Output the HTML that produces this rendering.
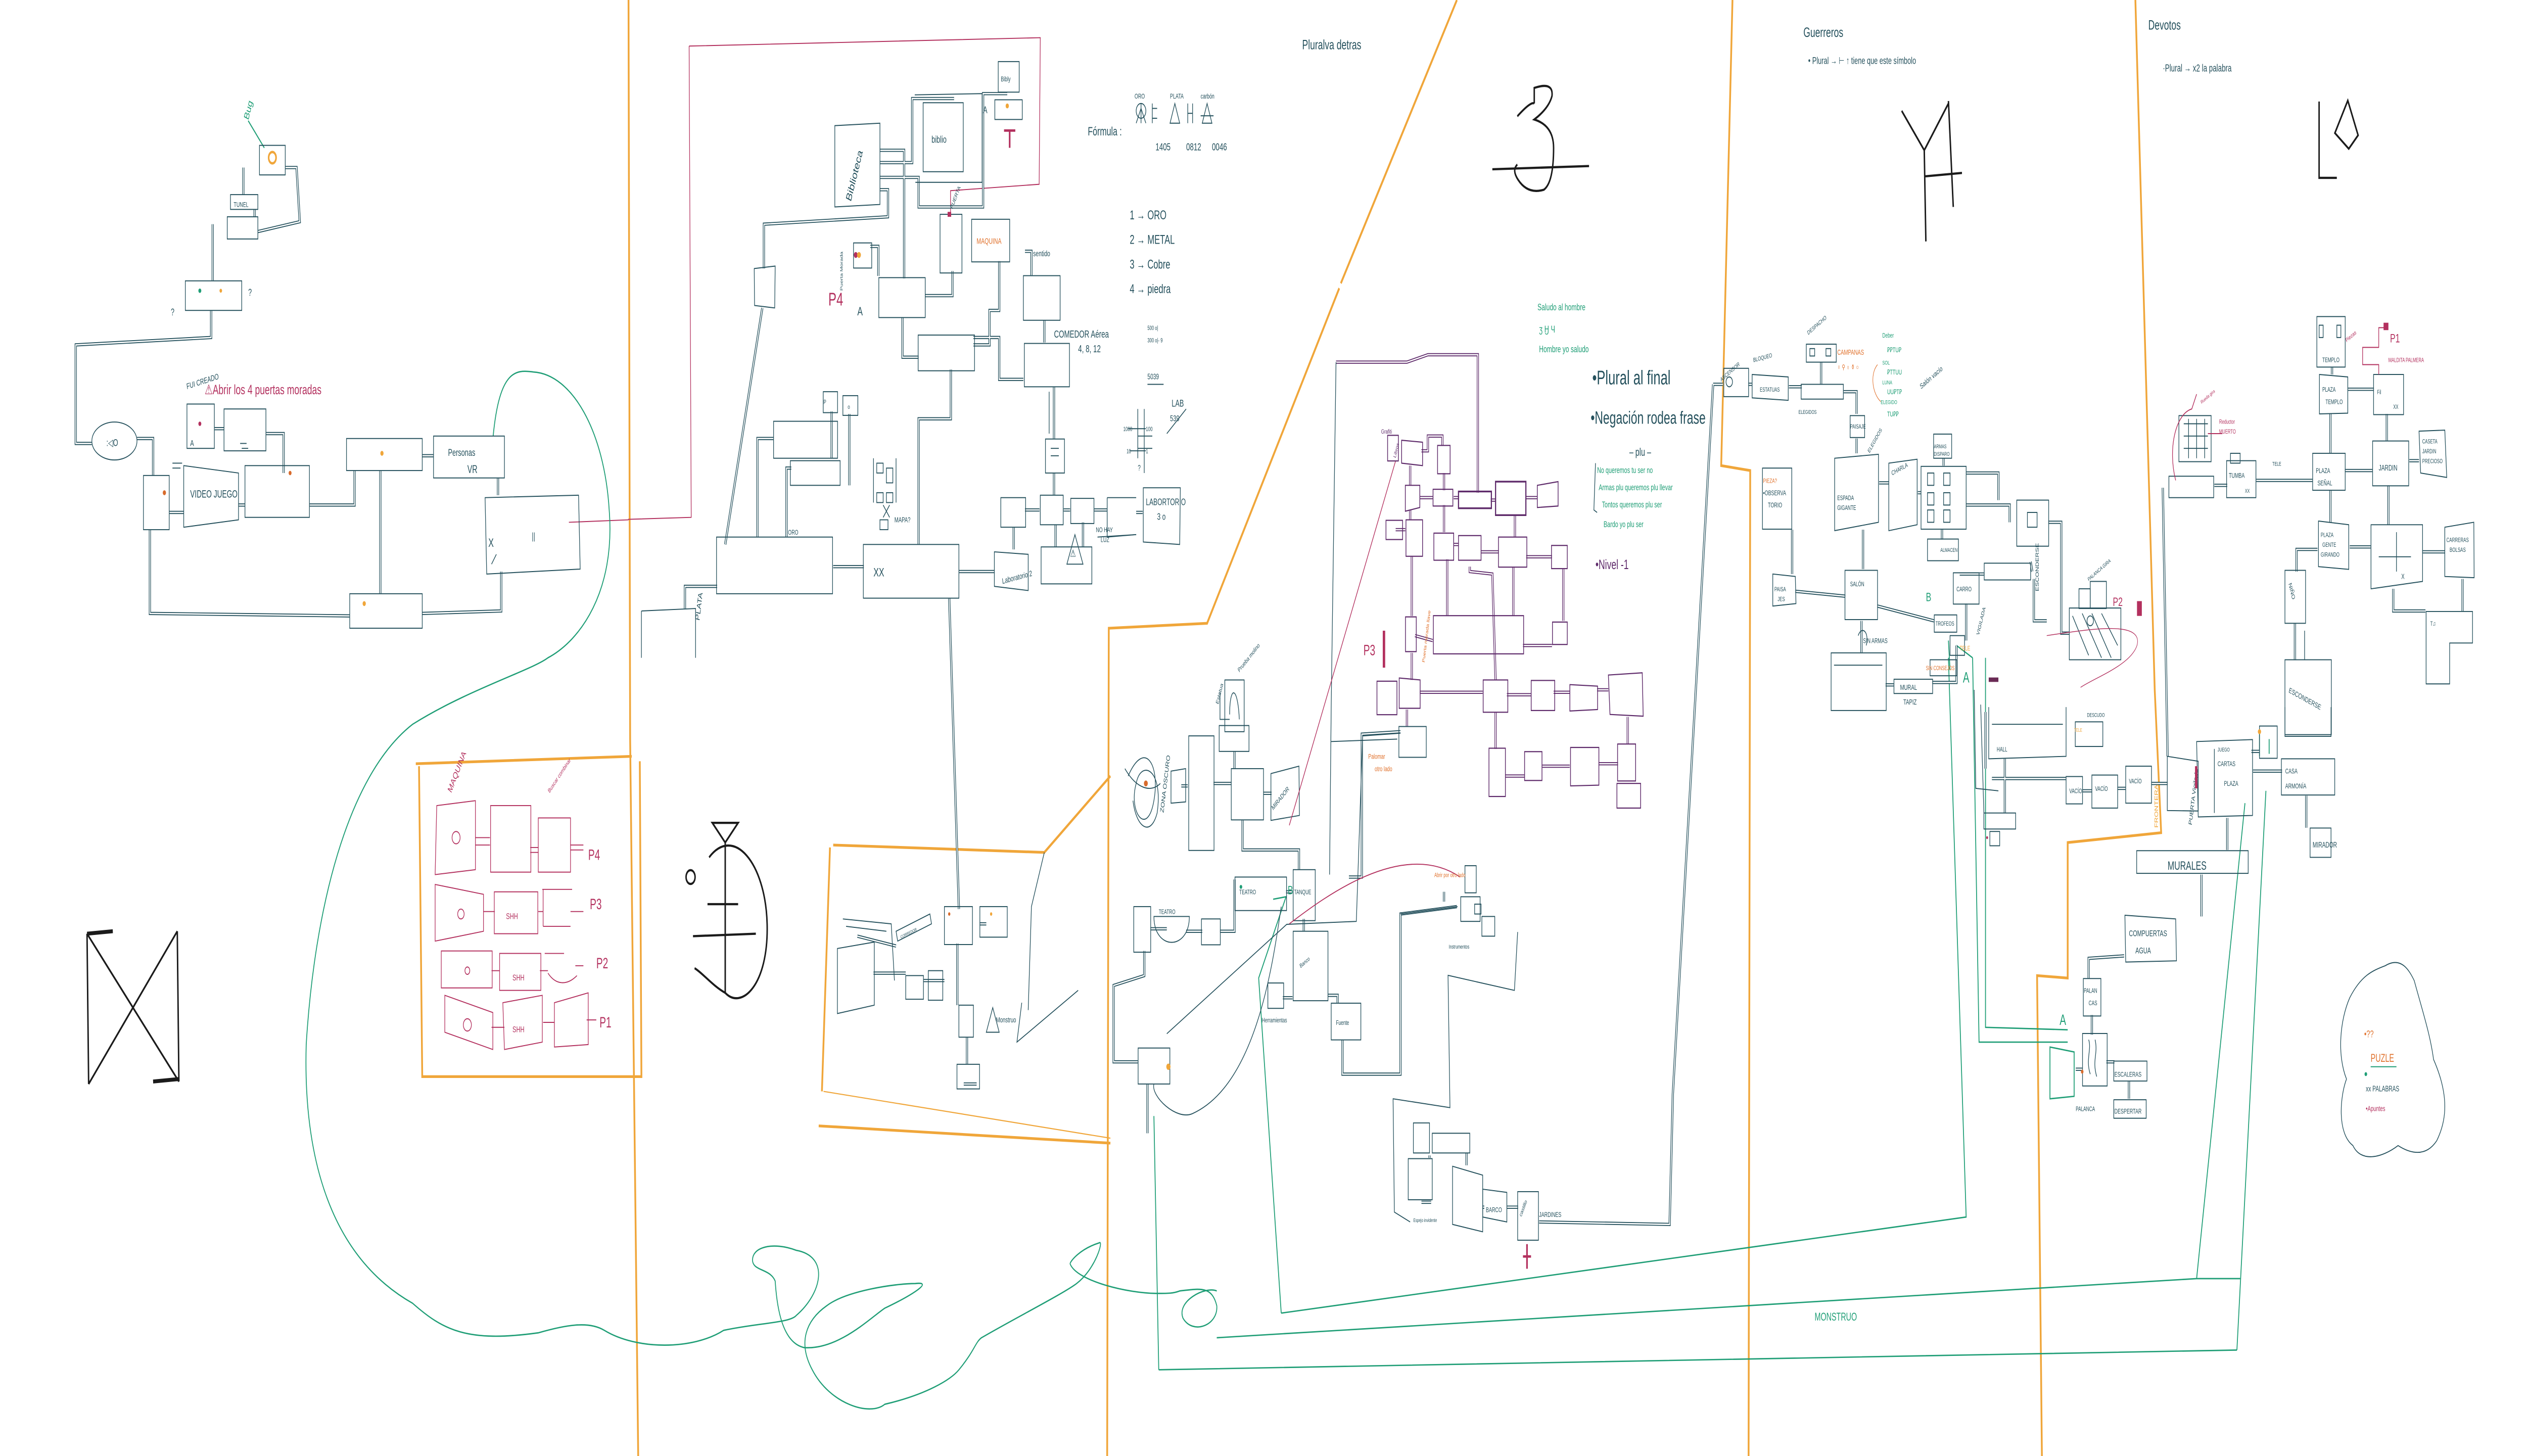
<!DOCTYPE html>
<html><head><meta charset="utf-8">
<style>
html,body{margin:0;padding:0;background:#fff;width:100%;height:100%;overflow:hidden;}
svg{display:block;position:absolute;left:0;top:0;width:100vw;height:100vh;}
text{font-family:"Liberation Sans",sans-serif;fill:#24505c;}
.s{stroke:#24505c;stroke-width:.4;fill:none}
.p{stroke:#5e2a6a;stroke-width:.45;fill:none}
.k{stroke:#b3305e;stroke-width:.4;fill:none}
.o{stroke:#f0a63a;stroke-width:1.1;fill:none}
.ot{stroke:#f0a63a;stroke-width:.45;fill:none}
.g{stroke:#1f9e76;stroke-width:.55;fill:none}
.b{stroke:#1b1b1b;stroke-width:.9;fill:none}
</style></head>
<body>
<svg viewBox="0 0 1568 591" preserveAspectRatio="none" xmlns="http://www.w3.org/2000/svg">
<rect width="1568" height="591" fill="#fff"/>
<defs>
<g id="cor">
<path d="M158,85 V88 M132,91 V114 M131,126 V137 L47,140 V180 H57 M85,178 H95 V193 M105,208 H114 M148,205 H152 M165,176 H176 V192 M192,205 H220 V191 M236,191 V241 M262,185 H269 M309,194 V201 M93,215 V249 L217,250 M262,249 L311,248 V232 M133,174 H139"/>
<path d="M151,68 V79 M177,68 H184 L186,90 L160,94"/>
<path d="M546,61 H561 V113 M546,66 H566 V40 H592 M546,72 H570 V84 H610 V38 H625 M546,77 H551 V88 L474,91 V109 M473,125 L450,221 M574,120 H591 V110 M560,129 V145 H570 M604,140 H614 V126 H620 V106 M636,102 H640 V112 M648,130 V139 M604,137 H620 V154 H635 M654,157 V178 M654,192 V201 M636,207 H645 M660,207 H664 M679,207 H687 M705,208 H709 M629,214 V223 M655,213 V222 M672,212 V222 M590,150 V170 H570 V221 M595,232 H617 M517,230 H536 M470,218 V178 H480 M488,218 V190 H491 M516,186 V167 M527,197 V168 M425,247 V238 H445 M589,243 L595,369 M545,112 V100 H540"/>
<path d="M542,395 H562 M573,398 H586 M594,383 V408 M600,421 V432 M608,375 H612 M532,380 L556,384 M598,440 H606"/>
<path d="M733,319 H737 M753,318 H764 M766,305 V312 M784,322 H789 M771,333 V345 L806,345 V353 M714,377 H724 M736,378 H746 M757,378 H766 V357 M798,362 H802 M809,373 V378 M796,405 H802 M824,404 H830 V407 M833,422 V436 H869 V371 L904,368 M896,362 V366 M837,356 H845 V298 L869,297 M710,386 V396 L691,400 V431 H706 M712,440 V460"/>
<path d="M955,496 L1036,497 L1038,444 L1063,156"/>
<path d="M882,488 H888 M887,469 V470 M910,468 V473 M920,490 H921 M935,490 H942"/>
<path d="M1063,156 H1069 M1085,156 H1087 M1110,157 H1118 M1130,147 V156 M1144,159 H1152 V168 M1152,178 V184 M1166,196 H1172 M1190,200 H1192 M1206,186 V189 M1220,192 H1240 V203 M1220,205 H1247 V212 M1112,215 V233 M1114,240 L1145,242 M1156,215 V231 M1165,246 L1200,252 M1205,215 V219 M1216,233 H1231 M1262,235 V252 H1270 M1271,212 H1279 V257 H1284 M1155,252 V265 M1170,278 H1175 M1199,277 H1214 V262 M1260,228 L1261,232 M1220,245 V260"/>
<path d="M1244,308 V330 M1236,316 H1282 M1292,321 H1298 M1314,320 H1319 M1335,318 H1345 M1364,315 H1363 M1398,313 H1416 M1397,305 H1402 M1382,332 V345 M1366,355 V372 M1318,388 L1296,389 V397 M1298,412 V420 M1307,431 H1312 M1321,439 V446 M1288,434 H1292 M1431,323 V336 M1232,289 V312"/>
<path d="M1447,149 V152 M1457,158 H1473 M1481,168 V179 M1495,187 H1501 M1446,168 V184 M1455,191 H1472 M1400,195 H1435 M1374,197 H1382 M1446,199 V212 M1482,197 V213 M1458,222 H1471 M1503,224 H1517 M1438,223 H1425 V232 M1424,253 V268 M1485,239 V248 H1505 M1528,235 V248 M1342,198 L1345,307"/>
</g>
<g id="pcor">
<path d="M875,189 V197 M875,207 V211 M876,226 V250 M876,265 V276 M882,183 H886 V177 H895 V181 M896,192 V199 M896,205 V216 M898,227 V250 M881,202 H889 M902,202 H905 M925,203 H928 M947,202 H954 M866,215 H872 M902,221 H905 M919,224 H930 M947,226 H963 M940,209 V218 M939,230 V250 M970,231 V252 M945,262 H963 M881,281 H920 M935,282 H950 M964,281 H974 M991,280 H998 M873,288 V295 M912,230 V232 L926,233 L928,276 M928,289 V304 M957,311 H974 M992,310 H1004 M1010,291 V302 M934,315 H946 M917,200 V164 L917,144 L886,144 L873,147 L829,147 M878,258 L889,260"/>
</g>
</defs>

<path class="o" d="M390,0 L391,300 L396,591"/>
<path class="o" d="M904,0 L832,115 M831,117 L749,253 L688,255 L687,591"/>
<path class="o" d="M1075,0 L1068,189 L1086,191 L1085,591"/>
<path class="o" d="M1325,0 L1337,280 L1341,338 L1283,342 L1283,397 L1264,396 L1267,591"/>
<path class="o" d="M258,310 L392,307 M260,311 L262,437 L398,437 L397,309"/>
<path class="o" d="M517,343 L648,346 L689,315 M515,344 L510,443 M508,457 L689,464"/>
<path class="ot" d="M511,443 L689,462"/>

<path class="k" d="M427.6,18.7 L645.5,15.3 L644.8,74.8 L589.8,77.4 L589.8,86.7 M427.6,18.7 L428.9,210 L389.7,210.8 M353,212 L390,211"/>

<path class="g" d="M306,177 C310,150 320,150 331,151 C355,152 375,175 378,207 C382,240 360,260 340,267 C330,272 290,280 256,294 C215,315 195,370 190,424 C188,470 205,510 256,529 C275,540 290,545 334,541 C350,538 365,536 375,540 C395,548 430,548 449,540 C470,537 490,537 494,534 C510,525 515,510 494,507.5 C480,504 466,506 467,512 C468,516 478,515 481,520 C482,530 485,545 499,547 C520,548 540,535 549,531 C565,526 580,520 568,521 C555,521 525,524 513,530 C500,536 495,545 504,556 C515,570 540,575 549,570 C575,566 590,560 595,556 C605,548 605,545 609,543 C630,535 660,525 668,521 C680,515 685,503 682,504.5 C670,507 664,512 664,513 C668,520 700,525 718,525 C725,525 728,525 732,524 C745,523 752,522 755,530 C756,538 740,542 734,535 C730,528 748,522 755,524"/>
<path class="g" d="M755,543 L1363,519 L1390,519 M719,556 L1388,548 M716,453 L719,556 M795,533 L1220,494 L1209,267 M795,533 L781,397 L798,364 L790,365"/>
<path class="g" d="M1363,519 L1393,326 M1388,548 L1406,321"/>
<path class="g" d="M1232,267 L1232,417 L1283,418 M1224,267 L1228,423 L1283,423 M1209,260 L1210,272 M1214,262 L1224,267"/>
<path class="g" d="M1272,425 L1287,427 L1287,445 L1272,446 Z M1402,298 L1402,307 M1408,300 V306"/>
<path class="g" d="M154,49 L164,60"/>

<use href="#cor" stroke="#24505c" stroke-width="1.3" fill="none"/>
<use href="#cor" stroke="#fff" stroke-width=".55" fill="none"/>
<use href="#pcor" stroke="#5e2a6a" stroke-width="1.3" fill="none"/>
<use href="#pcor" stroke="#fff" stroke-width=".55" fill="none"/>

<g class="s">
<rect x="161" y="59" width="16" height="12"/>
<rect x="143" y="79" width="17" height="6"/>
<rect x="141" y="88" width="19" height="9"/>
<rect x="115" y="114" width="35" height="12"/>
<rect x="116" y="164" width="17" height="18"/>
<rect x="139" y="166" width="26" height="17"/>
<rect x="89" y="193" width="16" height="22"/>
<path d="M114,189 L148,192 L148,211 L114,214 Z"/>
<rect x="152" y="189" width="40" height="21"/>
<rect x="215" y="178" width="47" height="13"/>
<rect x="269" y="177" width="44" height="17"/>
<path d="M301,202 L359,201 L360,231 L302,233 Z"/>
<rect x="217" y="241" width="45" height="14"/>
<ellipse cx="71" cy="179" rx="14" ry="7.7"/>
<path d="M107,188 H113 M107,190 H112 M149,180 H153 M150,182 H154 M305,229 L308,225"/>
</g>
<circle cx="169" cy="64" r="2.3" stroke="#f0a63a" stroke-width="1" fill="none"/>
<circle cx="237" cy="184" r="1" fill="#f0a63a"/><circle cx="226" cy="245" r="1" fill="#f0a63a"/>
<circle cx="102" cy="200" r="1" fill="#d86b2c"/><circle cx="124" cy="172" r=".9" fill="#b3305e"/>
<circle cx="124" cy="118" r=".9" fill="#1f9e76"/><circle cx="137" cy="118" r=".8" fill="#f0a63a"/>
<circle cx="180" cy="192" r=".9" fill="#d86b2c"/>
<text x="150" y="49" font-size="4.5" style="fill:#1f9e76" transform="rotate(-70 152 46)">Bug</text>
<text x="145" y="84" font-size="2.8">TUNEL</text>
<text x="116" y="158" font-size="3.3" transform="rotate(-12 116 158)">FUI CREADO</text>
<text x="127" y="160" font-size="5.5" style="fill:#b3305e">⚠Abrir los 4 puertas moradas</text>
<text x="118" y="202" font-size="4.3">VIDEO JUEGO</text>
<text x="278" y="185" font-size="4">Personas</text><text x="290" y="192" font-size="4.5">VR</text>
<text x="303" y="222" font-size="5">X</text><text x="330" y="219" font-size="4">||</text>
<text x="66" y="181" font-size="4">:◁O</text>
<text x="118" y="181" font-size="3.5">A</text>
<text x="106" y="128" font-size="4">?</text><text x="154" y="120" font-size="4">?</text>

<g class="b">
<path d="M54,379 L55,440 M110,378 L111,439 M54,379 L111,439 M110,378 L55,440"/>
<path d="M54,379 L70,378 M95,439 L111,438" stroke-width="1.6"/>
</g>
<g class="b">
<path d="M442,334 L458,334 L450,342 Z"/>
<circle cx="428.5" cy="356" r="2.8"/>
<path d="M450,342 V403 M439,367 H458 M430,380 L469,379"/>
<path d="M440,348 C455,335 475,350 476,375 C477,400 460,410 450,403 C442,400 436,395 431,393"/>
</g>

<g class="k">
<path d="M271,327 L295,325 L295,353 L270,355 Z"/>
<rect x="304.4" y="327" width="25" height="27"/>
<rect x="334" y="332" width="20" height="22"/>
<path d="M270,359 L300,363 L300,378 L270,382 Z"/>
<rect x="306.7" y="362" width="27" height="17"/>
<path d="M336.5,361 H355 M337,376 H354 M337,361 V376"/>
<rect x="273.8" y="386" width="31.6" height="15"/>
<rect x="310" y="387" width="25.6" height="15"/>
<path d="M338,387 H350 M340,395 C345,400 352,400 358,396"/>
<path d="M276,404 L305.8,411 L305.8,426 L276,419 Z"/>
<path d="M312,407 L336.5,404 L336.5,423 L313,426 Z"/>
<path d="M344,407 L365,403 L365,424 L344,425 Z"/>
<path d="M295,340 H304 M295,343 H304 M329,344 H334 M329,346 H334 M354,343 H362 M354,345 H362 M300,370 H307 M334,370 H337 M354,370 H362 M305,394 H310 M335,394 H340 M357,392 H362 M305,417 H313 M337,415 H344 M364,414 H370"/>
<circle cx="283" cy="340" r="2.5"/><circle cx="286" cy="371" r="2"/><circle cx="290" cy="394" r="1.5"/><circle cx="290" cy="416" r="2.5"/>
</g>
<text x="280" y="322" font-size="4" style="fill:#b3305e" transform="rotate(-60 280 322)">MAQUINA</text>
<text x="341" y="322" font-size="2.5" style="fill:#b3305e" transform="rotate(-45 341 322)">Buscar combinar</text>
<text x="365" y="349" font-size="6" style="fill:#b3305e">P4</text>
<text x="366" y="369" font-size="6" style="fill:#b3305e">P3</text>
<text x="370" y="393" font-size="6" style="fill:#b3305e">P2</text>
<text x="372" y="417" font-size="6" style="fill:#b3305e">P1</text>
<text x="314" y="373" font-size="3.5" style="fill:#b3305e">SHH</text>
<text x="318" y="398" font-size="3.5" style="fill:#b3305e">SHH</text>
<text x="318" y="419" font-size="3.5" style="fill:#b3305e">SHH</text>

<g class="s">
<path d="M518,51 L546,50 L546,83 L518,84 Z"/>
<rect x="572.8" y="41.7" width="24.9" height="28"/>
<path d="M567.6,38.5 L609.4,38 L609.4,74 L568,74"/>
<rect x="619.4" y="25" width="13" height="12.4"/>
<rect x="617.3" y="40.5" width="17" height="8"/>
<path d="M468,109 L481,108 L480.7,125 L468.2,124 Z"/>
<rect x="529.6" y="98.6" width="11.3" height="10.2"/>
<rect x="545.3" y="112.7" width="28.8" height="16.2"/>
<rect x="583.3" y="87" width="13.6" height="23.8"/>
<rect x="602.9" y="89" width="23.6" height="17.3"/>
<rect x="635" y="111.9" width="22.8" height="18.1"/>
<rect x="569.7" y="136" width="35" height="14.5"/>
<rect x="635.6" y="139.4" width="28" height="17.6"/>
<rect x="648.7" y="178.2" width="11.8" height="13.8"/>
<rect x="621" y="202" width="15.4" height="12"/>
<rect x="645.5" y="201" width="14.2" height="12"/>
<rect x="664.4" y="202.3" width="14.4" height="10.2"/>
<path d="M687,202 H705 M687,218 L705,217 M687,202 V218"/>
<path d="M709.4,198 L732.4,198 L732,221 L709.4,220 Z"/>
<path d="M617,224 L638,225 L638,239.7 L617,238 Z"/>
<rect x="646" y="222" width="31.5" height="15"/>
<rect x="535.7" y="221" width="59.3" height="21.8"/>
<rect x="444.6" y="218" width="72" height="23"/>
<path d="M398,248 L431.6,247 L431.6,267 M398,248 V267"/>
<rect x="480" y="171" width="39.7" height="15"/>
<rect x="490.4" y="187" width="30.9" height="10"/>
<rect x="510.8" y="159" width="8.9" height="8.5"/>
<rect x="523" y="160.6" width="9.3" height="8"/>
<path d="M542,186 V204 M556,186 V204 M544,188 H548 V192 H544 Z M550,190 H554 V196 H550 Z M544,200 H548 V204 H544 Z M550,200 H554 V204 H550 Z M548,205 L552,210 M552,205 L548,210 M546,211 H551 V215 H546 Z"/>
<path d="M667,217 L672,229 L662,229 Z M681,218 L705,217"/>
<path d="M710,166 V192 M706,177 H715 M706,182 H715"/>
<path d="M651,159 V176 M652,182 H657 M652,185 H657"/>
</g>
<text x="528" y="82" font-size="5" transform="rotate(-70 528 82)">Biblioteca</text>
<text x="578" y="58" font-size="4">biblio</text>
<text x="621" y="33" font-size="2.8">Bibly</text>
<text x="610" y="46" font-size="4">A</text>
<path d="M623,53 H630 M626.5,53 V60" stroke="#b3305e" stroke-width="1" fill="none"/>
<circle cx="625" cy="43" r="1" fill="#f0a63a"/>
<text x="591" y="85" font-size="2.6" transform="rotate(-60 591 85)">PUERTA</text>
<rect x="588" y="86" width="2.2" height="2" fill="#b3305e"/>
<text x="606" y="99" font-size="3.3" style="fill:#e0702a">MAQUINA</text>
<text x="641" y="104" font-size="3.3">sentido</text>
<text x="523" y="118" font-size="2.4" transform="rotate(-90 523 118)">Puerta Morada</text>
<circle cx="531" cy="103.5" r="1.2" fill="#b3305e"/><circle cx="533" cy="103.5" r="1.2" fill="#f0a63a"/>
<text x="514" y="124" font-size="7.5" style="fill:#b3305e">P4</text>
<text x="532" y="128" font-size="5">A</text>
<text x="654" y="137" font-size="4.2">COMEDOR Aérea</text>
<text x="669" y="143" font-size="4.2">4, 8, 12</text>
<text x="542" y="234" font-size="5">XX</text>
<text x="489" y="217" font-size="2.8">ORO</text>
<text x="434" y="252" font-size="3.8" transform="rotate(-80 434 252)">PLATA</text>
<text x="622" y="237" font-size="3.2" transform="rotate(-10 622 237)">Laboratorio 2</text>
<text x="711" y="205" font-size="3.8">LABORTORIO</text><text x="718" y="211" font-size="3.8">3 o</text>
<text x="680" y="216" font-size="2.8">NO HAY</text><text x="683" y="220" font-size="2.8">LUZ</text>
<text x="555" y="212" font-size="3">MAPA?</text>
<text x="664" y="226" font-size="4">⚠</text>
<text x="511" y="164" font-size="2.5">P</text><text x="526" y="166" font-size="2.5">o</text>
<text x="675" y="55" font-size="5">Fórmula :</text>
<text x="704" y="40" font-size="2.8">ORO</text><text x="726" y="40" font-size="2.8">PLATA</text><text x="745" y="40" font-size="2.8">carbón</text>
<g class="s"><circle cx="708" cy="45" r="3"/><path d="M708,42 V50 M705,50 L708,44 L711,50 M715,42 V50 M715,44 H718 M715,48 H718 M726,50 L729,42 L732,50 Z M737,42 V50 M740,42 V50 M737,46 H740 M746,50 L749,42 L752,50 Z M745,47 H753"/></g>
<text x="717" y="61" font-size="4.2">1405</text><text x="736" y="61" font-size="4.2">0812</text><text x="752" y="61" font-size="4.2">0046</text>
<text x="701" y="89" font-size="5.2">1 → ORO</text>
<text x="701" y="99" font-size="5.2">2 → METAL</text>
<text x="701" y="109" font-size="5.2">3 → Cobre</text>
<text x="701" y="119" font-size="5.2">4 → piedra</text>
<text x="712" y="134" font-size="2.4">500 o|</text><text x="712" y="139" font-size="2.4">300 o|- 9</text>
<text x="712" y="154" font-size="3.2">5039</text>
<path class="s" d="M712,156 H722 M706,166 V186 M700,174 H711 M701,183 H711"/>
<text x="727" y="165" font-size="4">LAB</text><text x="726" y="171" font-size="3.5">539</text>
<path class="s" d="M724,176 L736,166"/>
<text x="697" y="175" font-size="2.5">1000</text><text x="711" y="175" font-size="2.5">100</text>
<text x="699" y="184" font-size="2.5">10</text><text x="711" y="184" font-size="2.5">1</text>
<text x="706" y="191" font-size="3.2">?</text>

<g class="s">
<path d="M519.6,385 L542.5,382.4 L542.5,408 L519.6,411.4 Z"/>
<path d="M523,373 L553,375 L555,398 M525,376 L550,378"/>
<rect x="586" y="368" width="17.4" height="15.4"/>
<rect x="608" y="368" width="17" height="12.4"/>
<rect x="562" y="396" width="11" height="9.6"/>
<rect x="576" y="394" width="9" height="12"/>
<rect x="595" y="408" width="9" height="13"/>
<rect x="593.8" y="432" width="14" height="10"/>
<path d="M556,378 L577,371 L578,375 L557,382 Z"/>
<path d="M612,419 L616,409 L620,419 Z M634,407 L631,423 L669,402"/>
<path d="M648,346 L640,368 L638,410"/>
</g>
<text x="559" y="381" font-size="1.8" transform="rotate(-18 559 381)">CORREDOR</text>
<text x="618" y="415" font-size="3">Monstruo</text>
<circle cx="589" cy="371" r=".7" fill="#d86b2c"/><circle cx="615" cy="371" r=".7" fill="#f0a63a"/>

<text x="808" y="20" font-size="5.5">Pluralva detras</text>
<g class="b" stroke-width="1.1">
<path d="M926,68.7 L986,67.4"/>
<path d="M941.5,47.2 Q950,41 952,42 M952,42 L952,35.7 Q964,33 963,39 Q961,44 952,48.5 Q964,51 964,60 Q964,74 958,77 Q948,79 942,73 Q938,69 941.5,66.8"/>
</g>
<g class="s">
<path d="M700,315 C710,300 720,310 716,325 C712,340 700,330 705,318 C708,308 722,312 718,330 C714,340 705,336 703,325 M698,312 C705,320 714,322 720,318"/>
<path d="M726.6,313 L735.7,312 L735.7,325.5 L726.6,326 Z"/>
<rect x="737.6" y="298.7" width="15.7" height="46.5"/>
<rect x="756.5" y="294.5" width="18.5" height="10.5"/>
<rect x="764" y="312" width="20" height="20.8"/>
<path d="M788.6,314 L806,311 L806.3,331 L788.6,333 Z"/>
<rect x="760" y="276" width="12" height="21"/>
<path d="M763,290 C763,278 768,278 769,292 M757,281 V292 H763"/>
<rect x="703.5" y="368" width="10.5" height="18.5"/>
<path d="M716,372 C716,386 738,386 738,372 Z"/>
<rect x="745.5" y="373" width="11.7" height="10.5"/>
<rect x="766.3" y="356" width="32" height="13.6"/>
<rect x="802.4" y="353" width="13.7" height="20.7"/>
<rect x="802.4" y="378" width="21.6" height="28.2"/>
<rect x="786.7" y="399" width="9.8" height="10.3"/>
<rect x="826" y="407.2" width="18.4" height="14.9"/>
<rect x="706.2" y="425.4" width="19.7" height="14.6"/>
<path d="M724,419.6 L798.4,375.2 L841.6,374 L845.5,298.7 L869,297.6"/>
<path d="M829,147 L826,287 L825,355"/>
<path d="M795,368 C790,390 780,440 740,452 C730,455 714,445 716,440"/>
<path d="M877,455.8 H887 V468 H877 Z M888.7,460 H912 V468 H888.7 Z M873.8,470.3 H888.7 V487 H873.8 Z"/>
<path d="M901.3,473.4 L920,477 L920,500 L901.3,497 Z"/>
<path d="M920,482.7 L935,484 L935,496 L920,494 Z"/>
<rect x="941.7" y="483.7" width="12.9" height="19.7"/>
<rect x="906.4" y="364" width="12" height="10"/>
<rect x="919.5" y="372" width="8" height="8"/>
<rect x="915" y="367" width="4" height="4"/>
<rect x="909" y="351.4" width="7" height="11"/>
<path d="M941.7,378.3 L939.7,402 L898.5,395.9 L899.7,449.6 L864.4,446 L865.2,492 L875,496"/>
<path d="M904.4,368 L869,371"/>
</g>
<path class="k" d="M800,375 C820,365 870,340 906,356" stroke-width=".3"/>
<path class="k" d="M800,335 L866,187" stroke-width=".3"/>
<path d="M947.5,505 V510 M945,510 H950 M947.5,510 V515" stroke="#b3305e" stroke-width="1" fill="none"/>
<text x="722" y="330" font-size="3.2" transform="rotate(-80 722 330)">ZONA OSCURO</text>
<text x="790" y="329" font-size="2.8" transform="rotate(-40 790 329)">MIRADOR</text>
<text x="756" y="286" font-size="2.6" transform="rotate(-70 756 286)">Estatua</text>
<text x="769" y="273" font-size="2.6" transform="rotate(-40 769 273)">Prueba molino</text>
<text x="719" y="371" font-size="2.6">TEATRO</text>
<text x="769" y="363" font-size="2.6">TEATRO</text>
<text x="803" y="363" font-size="2.6">TANQUE</text>
<text x="807" y="393" font-size="2.4" transform="rotate(-30 807 393)">Banco</text>
<text x="783" y="415" font-size="2.6">Herramientas</text>
<text x="829" y="416" font-size="2.6">Fuente</text>
<text x="899" y="385" font-size="2.2">Instrumentos</text>
<text x="877" y="496" font-size="2">Espejo invidente</text>
<text x="922" y="492" font-size="2.8">BARCO</text>
<text x="944" y="494" font-size="2.4" transform="rotate(-60 944 494)">castillo</text>
<text x="955" y="494" font-size="2.8">JARDINES</text>
<text x="884" y="269" font-size="2.4" style="fill:#e0702a" transform="rotate(-80 884 269)">Puerta morada llave</text>
<text x="849" y="308" font-size="2.8" style="fill:#e0702a">Palomar</text><text x="853" y="313" font-size="2.8" style="fill:#e0702a">otro lado</text>
<text x="890" y="356" font-size="2.4" style="fill:#e0702a">Abrir por otro lado</text>
<text x="846" y="266" font-size="6" style="fill:#b3305e">P3</text>
<rect x="858" y="256" width="1.5" height="15" fill="#b3305e"/>
<text x="799" y="363" font-size="5" style="fill:#1f9e76">B</text>
<circle cx="711" cy="318" r="1.2" fill="#d86b2c"/>
<circle cx="725" cy="433" r="1.3" fill="#f0a63a"/>
<circle cx="770" cy="360" r=".8" fill="#1f9e76"/>
<g class="p">
<rect x="861" y="176.7" width="6.7" height="10.4"/>
<path d="M869.7,178.7 L882.7,179.5 L882.7,189 L869.7,188 Z"/>
<rect x="892" y="180.8" width="7.8" height="11.5"/>
<path d="M872,197 L881,197 L881,206 L872,207.5 Z"/>
<rect x="889.2" y="198.6" width="12.3" height="6.8"/>
<rect x="905" y="199.5" width="20.4" height="6.8" stroke-width=".7"/>
<rect x="928" y="195.5" width="18.8" height="13.6" stroke-width=".7"/>
<path d="M953.9,197 L966.8,195.5 L966.8,205.4 L953.9,206 Z"/>
<rect x="860" y="211.2" width="10.3" height="7.8"/>
<rect x="872.4" y="211" width="10.3" height="14.8"/>
<rect x="889.7" y="216.4" width="12.3" height="11"/>
<rect x="905" y="217.4" width="14" height="10"/>
<rect x="929.8" y="218" width="17.6" height="12.2"/>
<rect x="962.7" y="221.4" width="9.8" height="9.4"/>
<rect x="872.1" y="250.4" width="6.7" height="14.1"/>
<rect x="889.4" y="249.9" width="56" height="15.5"/>
<rect x="963.3" y="252.5" width="9.2" height="9.1"/>
<rect x="854.4" y="276.5" width="12.4" height="13.6"/>
<path d="M868.2,275.2 L881.2,276 L881.2,287.5 L868.2,287.5 Z"/>
<rect x="920.3" y="276" width="15.3" height="13.1"/>
<rect x="950.1" y="276.2" width="14.6" height="12.2"/>
<path d="M974.1,277.9 L991.3,278.5 L991.3,288 L974.1,288.6 Z"/>
<path d="M998,274 L1019,273.1 L1019.6,290.7 L999,290 Z"/>
<rect x="923.9" y="303.7" width="10.2" height="19.6"/>
<rect x="946" y="305.1" width="10.8" height="11.7"/>
<path d="M974.5,303.4 L992.1,303.4 L992.1,318.7 L974.5,319 Z"/>
<rect x="1003.7" y="302" width="11.2" height="15"/>
<rect x="1003.3" y="318" width="14.7" height="10"/>
</g>
<rect class="s" x="868" y="294.9" width="17" height="12.5"/>
<path class="s" d="M867,300 L826,301"/>
<text x="857" y="176" font-size="2.5" style="fill:#5e2a6a">Grafiti</text>
<text x="866" y="186" font-size="2.3" style="fill:#5e2a6a" transform="rotate(-70 866 186)">Libros</text>
<text x="954" y="126" font-size="3.8" style="fill:#1f9e76">Saludo al hombre</text>
<text x="955" y="135" font-size="4" style="fill:#1f9e76">ʒ  Ӈ  Ч</text>
<text x="955" y="143" font-size="3.8" style="fill:#1f9e76">Hombre yo saludo</text>
<text x="988" y="156" font-size="8">•Plural al final</text>
<text x="987" y="172" font-size="7.2">•Negación rodea frase</text>
<text x="1011" y="185" font-size="4.5">– plu –</text>
<path class="s" d="M990,188 L989,207 L991,208" stroke="#1f9e76"/>
<text x="991" y="192" font-size="3.4" style="fill:#1f9e76">No queremos tu ser no</text>
<text x="992" y="199" font-size="3.4" style="fill:#1f9e76">Armas plu queremos plu llevar</text>
<text x="994" y="206" font-size="3.4" style="fill:#1f9e76">Tontos queremos plu ser</text>
<text x="995" y="214" font-size="3.4" style="fill:#1f9e76">Bardo yo plu ser</text>
<text x="990" y="231" font-size="5.5" style="fill:#5e2a6a">•Nivel -1</text>

<text x="1119" y="15" font-size="5.5">Guerreros</text>
<text x="1122" y="26" font-size="4">• Plural → ⊢ ↑ tiene que este símbolo</text>
<g class="b" stroke-width="1.1">
<path d="M1180,45 L1194,61 L1209,42 M1194,61 L1195,98 M1209,41 L1212,84 M1194,71.6 L1217.4,70.2"/>
</g>
<g class="s">
<rect x="1069.6" y="149.5" width="15.4" height="11.5"/>
<circle cx="1073" cy="155" r="2"/>
<path d="M1087.2,152 L1109.6,153 L1109.6,162.5 L1087.2,161.5 Z"/>
<rect x="1117.6" y="156" width="26.2" height="6"/>
<rect x="1120.8" y="139.7" width="18.6" height="7.3"/>
<rect x="1123" y="141.5" width="3" height="3"/><rect x="1133" y="141.5" width="3" height="3"/>
<rect x="1148" y="168.7" width="9" height="8.9"/>
<path d="M1138.4,186 L1165.6,184.4 L1165.6,212 L1138.4,215.4 Z"/>
<path d="M1172,188 L1189.6,186.4 L1189.6,213 L1172,215.4 Z"/>
<rect x="1192" y="189.3" width="28" height="25.5"/>
<rect x="1196" y="192" width="4" height="5"/><rect x="1206" y="192" width="4" height="5"/><rect x="1196" y="200" width="4" height="5"/><rect x="1206" y="200" width="4" height="5"/><rect x="1196" y="207" width="4" height="5"/><rect x="1206" y="207" width="4" height="5"/>
<rect x="1199.8" y="176.2" width="11.2" height="9.8"/>
<rect x="1196" y="218.8" width="19.2" height="8.8"/>
<rect x="1212" y="232.5" width="16" height="12.7"/>
<rect x="1231.2" y="228.6" width="28.8" height="6.8"/>
<rect x="1251.4" y="203" width="19.8" height="18.7"/>
<rect x="1258" y="208" width="6" height="6"/>
<rect x="1284" y="246.8" width="32" height="21"/>
<path d="M1286,250 L1296,266 M1292,249 L1304,267 M1298,249 L1310,267 M1304,249 L1314,262"/>
<rect x="1290" y="239" width="7" height="8"/><rect x="1297" y="236" width="10" height="11"/>
<circle cx="1297" cy="252" r="2"/>
<rect x="1093.6" y="190" width="18.2" height="24.8"/>
<path d="M1100,233 L1114,234 L1114.4,245 L1100,246 Z"/>
<rect x="1144.8" y="231.5" width="20.2" height="20"/>
<rect x="1136.2" y="265" width="34.2" height="23.4"/>
<path d="M1138,270 H1168 M1153,258 C1155,254 1160,256 1158,262"/>
<rect x="1175.2" y="275.7" width="24" height="5.8"/>
<rect x="1200.2" y="249.6" width="14" height="7"/>
<rect x="1197.6" y="267.8" width="16.6" height="6.5"/>
<rect x="1210" y="258" width="9" height="8"/>
<path d="M1234,287 L1234,308 L1282,307 L1282,287 M1236,294 H1280"/>
<rect x="1287.7" y="293" width="17.1" height="10"/>
<rect x="1282" y="315.2" width="10.2" height="11.1"/>
<rect x="1298" y="314.6" width="16" height="13.4"/>
<rect x="1319" y="311" width="16" height="15"/>
<path d="M1344.8,307 L1364,309 L1364,329.2 L1344.8,329 Z"/>
<path d="M1363,301 L1397.7,300.2 L1397.7,331 L1364,331.6 Z M1374,304 V330"/>
<rect x="1402" y="294.7" width="11" height="13.1"/>
<rect x="1415.6" y="308" width="33.1" height="14.7"/>
<path d="M1417.8,287 V298.9 H1446.4 V287"/>
<path d="M1433.4,336.1 H1446.4 V348 H1433.4 Z"/>
<rect x="1325.8" y="345.3" width="69.2" height="9.2"/>
<path d="M1318.5,371.5 L1350,373 L1350.5,390 L1319,390.5 Z"/>
<rect x="1292.7" y="397.2" width="10.9" height="15.2"/>
<rect x="1292.2" y="419.5" width="15.3" height="21.3"/>
<path d="M1296,422 C1298,426 1294,430 1297,436 M1300,422 C1302,428 1298,430 1301,437"/>
<path d="M1311.6,430.7 H1332.2 V438.8 H1311.6 Z"/>
<rect x="1311.6" y="446.4" width="20.1" height="7.5"/>
<rect x="1231" y="330" width="19.7" height="6.5"/>
<rect x="1234.7" y="337.5" width="6.1" height="5.8"/>
<path d="M1229,286 L1231,330 M1225,280 L1226,320 L1240,321"/>
</g>
<text x="1068" y="155" font-size="2.4" transform="rotate(-30 1068 155)">ASCENSOR</text>
<text x="1088" y="147" font-size="2.4" transform="rotate(-10 1088 147)">BLOQUEO</text>
<text x="1092" y="159" font-size="2.4">ESTATUAS</text>
<text x="1116" y="168" font-size="2.2">ELEGIDOS</text>
<text x="1122" y="136" font-size="2.4" transform="rotate(-30 1122 136)">DESPACHO</text>
<text x="1140" y="144" font-size="3" style="fill:#e0702a">CAMPANAS</text>
<text x="1140" y="150" font-size="2.8" style="fill:#e0702a">♀ ⚲ ♁ ⚱ ○</text>
<text x="1168" y="137" font-size="2.6" style="fill:#1f9e76">Deber</text>
<text x="1171" y="143" font-size="2.8" style="fill:#1f9e76">ꝐꝐTUꝐ</text>
<text x="1168" y="148" font-size="2.3" style="fill:#1f9e76">SOL</text>
<text x="1171" y="152" font-size="2.8" style="fill:#1f9e76">ꝐTTUU</text>
<text x="1168" y="156" font-size="2.3" style="fill:#1f9e76">LUNA</text>
<text x="1171" y="160" font-size="2.8" style="fill:#1f9e76">UUꝐTꝐ</text>
<text x="1167" y="164" font-size="2.3" style="fill:#1f9e76">ELEGIDO</text>
<text x="1171" y="169" font-size="2.8" style="fill:#1f9e76">TUꝐꝐ</text>
<path d="M1165,148 C1160,152 1162,160 1167,163" stroke="#e0702a" stroke-width=".3" fill="none"/>
<text x="1192" y="158" font-size="3" transform="rotate(-30 1192 158)">Salón vacío</text>
<text x="1148" y="174" font-size="2.4">PAISAJE</text>
<text x="1160" y="184" font-size="2.4" transform="rotate(-50 1160 184)">ELEGIDOS</text>
<text x="1140" y="203" font-size="2.6">ESPADA</text><text x="1140" y="207" font-size="2.6">GIGANTE</text>
<text x="1174" y="193" font-size="2.6" transform="rotate(-20 1174 193)">CHARLA</text>
<text x="1200" y="182" font-size="2.2">ARMAS</text><text x="1200" y="185" font-size="2.2">DISPARO</text>
<text x="1204" y="224" font-size="2.2">ALMACEN</text>
<text x="1214" y="240" font-size="2.6">CARRO</text>
<text x="1265" y="240" font-size="2.8" transform="rotate(-90 1265 240)">ESCONDERSE</text>
<text x="1296" y="236" font-size="2.2" transform="rotate(-30 1296 236)">PALANCA GIRA</text>
<text x="1094" y="196" font-size="2.5" style="fill:#e0702a">PIEZA?</text>
<text x="1094" y="201" font-size="2.8">•OBSERVA</text><text x="1097" y="206" font-size="2.8">TORIO</text>
<text x="1101" y="240" font-size="2.5">PAISA</text><text x="1103" y="244" font-size="2.5">JES</text>
<text x="1148" y="238" font-size="2.6">SALÓN</text>
<text x="1156" y="261" font-size="2.8">SIN ARMAS</text>
<text x="1179" y="280" font-size="3">MURAL</text><text x="1181" y="286" font-size="3">TAPIZ</text>
<text x="1201" y="254" font-size="2.4">TROFEOS</text>
<text x="1195" y="272" font-size="2.4" style="fill:#e0702a">SIN CONSEJOS</text>
<text x="1216" y="264" font-size="2.6" style="fill:#f0a63a">TELE</text>
<text x="1195" y="244" font-size="5" style="fill:#1f9e76">B</text>
<text x="1218" y="277" font-size="6" style="fill:#1f9e76">A</text>
<text x="1278" y="416" font-size="6" style="fill:#1f9e76">A</text>
<text x="1311" y="246" font-size="5" style="fill:#b3305e">P2</text>
<rect x="1326" y="244" width="3" height="6" fill="#b3305e"/>
<path d="M1270,258 C1300,255 1330,252 1326,262 C1322,270 1300,275 1291,279" stroke="#b3305e" stroke-width=".3" fill="none"/>
<text x="1239" y="305" font-size="2.6">HALL</text>
<text x="1295" y="291" font-size="2.2">DESCUDO</text>
<text x="1287" y="297" font-size="2" style="fill:#f0a63a">TELE</text>
<text x="1284" y="322" font-size="2.6">VACÍO</text><text x="1300" y="321" font-size="2.6">VACÍO</text><text x="1321" y="318" font-size="2.6">VACÍO</text>
<text x="1339" y="336" font-size="3.2" style="fill:#f0a63a" transform="rotate(-90 1339 336)">FRONTERA</text>
<text x="1360" y="335" font-size="3" transform="rotate(-80 1360 335)">PUERTA Vigilada</text>
<rect x="1362" y="311" width="1.5" height="9" fill="#b3305e"/>
<text x="1376" y="305" font-size="2.2">JUEGO</text><text x="1376" y="311" font-size="2.8">CARTAS</text><text x="1380" y="319" font-size="2.8">PLAZA</text>
<text x="1418" y="314" font-size="2.8">CASA</text><text x="1418" y="320" font-size="2.8">ARMONÍA</text>
<text x="1435" y="344" font-size="3.2">MIRADOR</text>
<text x="1345" y="353" font-size="5">MURALES</text>
<text x="1321" y="380" font-size="3.4">COMPUERTAS</text><text x="1325" y="387" font-size="3.4">AGUA</text>
<text x="1293" y="403" font-size="2.6">PALAN</text><text x="1296" y="408" font-size="2.6">CAS</text>
<text x="1312" y="437" font-size="2.8">ESCALERAS</text>
<text x="1312" y="452" font-size="2.8">DESPERTAR</text>
<text x="1288" y="451" font-size="2.6">PALANCA</text>
<circle cx="1292" cy="435" r=".8" fill="#d86b2c"/><circle cx="1402" cy="297" r="1" fill="#f0a63a"/>
<circle cx="1233" cy="340" r=".6" fill="#b3305e"/>
<text x="1228" y="258" font-size="2.6" transform="rotate(-70 1228 258)">VIGILADA</text>
<rect x="1234" y="275" width="6" height="1.8" fill="#6a2a55"/>

<text x="1333" y="12" font-size="5.5">Devotos</text>
<text x="1342" y="29" font-size="4.2">·Plural → x2 la palabra</text>
<g class="b" stroke-width="1.1">
<path d="M1439,41.2 L1439,72.2 L1450,72.2 M1456.8,40.8 L1463.2,54.9 L1457.4,60.4 L1448.8,54 Z"/>
</g>
<g class="s">
<rect x="1437.6" y="128.5" width="17.6" height="20.5"/>
<rect x="1439" y="132" width="2.5" height="5"/><rect x="1450" y="132" width="2.5" height="5"/>
<path d="M1439.2,152 L1456.8,153 L1456.8,167.7 L1439.2,168 Z"/>
<rect x="1472.8" y="152" width="18.6" height="16.3"/>
<path d="M1501,175 L1517,174.6 L1518.2,193.8 L1502,192 Z"/>
<rect x="1472.2" y="179" width="22.4" height="18.2"/>
<rect x="1435" y="184" width="20.2" height="15"/>
<rect x="1381.6" y="187" width="18.2" height="15"/>
<rect x="1384" y="184" width="6" height="4"/>
<rect x="1352" y="168.7" width="20" height="18.7"/>
<path d="M1355,172 H1370 M1355,177 H1370 M1355,182 H1370 M1358,170 V186 M1363,170 V186 M1368,170 V186"/>
<rect x="1345.8" y="193.3" width="27.8" height="8.7"/>
<path d="M1438.6,211.5 L1457.4,213 L1457.4,231.1 L1438.6,230 Z"/>
<path d="M1471.2,213 L1503.2,213 L1503.2,236 L1471.2,239 Z M1476,226 H1496 M1487,216 V232"/>
<path d="M1517,214 L1535,212 L1535.2,234.5 L1517,234 Z"/>
<rect x="1417.8" y="231.5" width="12.8" height="21.5"/>
<path d="M1505.4,248.2 H1534.2 V261 H1520 V277.6 H1505.4 Z"/>
<rect x="1417.8" y="267.8" width="28.8" height="30.4"/>
<path d="M1430,256 V268"/>
</g>
<path class="k" d="M1350,195 C1345,182 1350,168 1360,166 L1363,160 M1370,176 H1379" stroke-width=".3"/>
<path class="k" d="M1476,152 V148 H1466 V141 H1476 V133 H1480" stroke-width=".6"/>
<rect x="1479" y="131" width="3" height="3" fill="#b3305e"/>
<text x="1483" y="139" font-size="5" style="fill:#b3305e">P1</text>
<text x="1482" y="147" font-size="2.4" style="fill:#b3305e">MALDITA PALMERA</text>
<text x="1456" y="139" font-size="2.4" style="fill:#b3305e" transform="rotate(-30 1456 139)">Piezas</text>
<text x="1366" y="164" font-size="2" style="fill:#b3305e" transform="rotate(-30 1366 164)">Rueda gira</text>
<text x="1377" y="172" font-size="2.4" style="fill:#b3305e">Reductor</text><text x="1377" y="176" font-size="2.4" style="fill:#b3305e">MUERTO</text>
<text x="1441" y="147" font-size="2.6">TEMPLO</text>
<text x="1441" y="159" font-size="2.6">PLAZA</text><text x="1443" y="164" font-size="2.6">TEMPLO</text>
<text x="1475" y="160" font-size="2.4">Fil</text><text x="1485" y="166" font-size="2.4">XX</text>
<text x="1503" y="180" font-size="2.4">CASETA</text><text x="1503" y="184" font-size="2.4">JARDIN</text><text x="1503" y="188" font-size="2.4">PRECIOSO</text>
<text x="1476" y="191" font-size="3.2">JARDIN</text>
<text x="1437" y="192" font-size="2.8">PLAZA</text><text x="1438" y="197" font-size="2.8">SEÑAL</text>
<text x="1383" y="194" font-size="2.8">TUMBA</text><text x="1393" y="200" font-size="2.2">XX</text>
<text x="1410" y="189" font-size="2.2">TELE</text>
<text x="1440" y="218" font-size="2.5">PLAZA</text><text x="1441" y="222" font-size="2.5">GENTE</text><text x="1440" y="226" font-size="2.5">GIRANDO</text>
<text x="1518" y="220" font-size="2.5">CARRERAS</text><text x="1520" y="224" font-size="2.5">BOLSAS</text>
<text x="1420" y="237" font-size="2.8" transform="rotate(70 1420 237)">NIÑO</text>
<text x="1420" y="281" font-size="3" transform="rotate(20 1420 281)">ESCONDERSE</text>
<text x="1490" y="235" font-size="3">X</text>
<text x="1508" y="254" font-size="2.5">T♫</text>
<path class="s" d="M1480,392 C1490,388 1495,394 1498,398 C1503,410 1508,420 1510,430 C1520,445 1518,455 1512,463 C1505,470 1495,468 1488,465 C1478,470 1465,472 1460,465 C1450,460 1452,445 1456,438 C1450,428 1452,414 1458,405 C1465,396 1472,394 1480,392 Z"/>
<text x="1467" y="421" font-size="4" style="fill:#e0702a">•??</text>
<text x="1471" y="431" font-size="4.5" style="fill:#e0702a">PUZLE</text>
<path d="M1471,433 H1487" stroke="#1f9e76" stroke-width=".4"/>
<circle cx="1468" cy="436" r=".8" fill="#1f9e76"/>
<text x="1468" y="443" font-size="3.2">xx PALABRAS</text>
<text x="1468" y="451" font-size="3" style="fill:#b3305e">•Apuntes</text>
<text x="1126" y="536" font-size="4.5" style="fill:#1f9e76">MONSTRUO</text>
</svg>
</body></html>
